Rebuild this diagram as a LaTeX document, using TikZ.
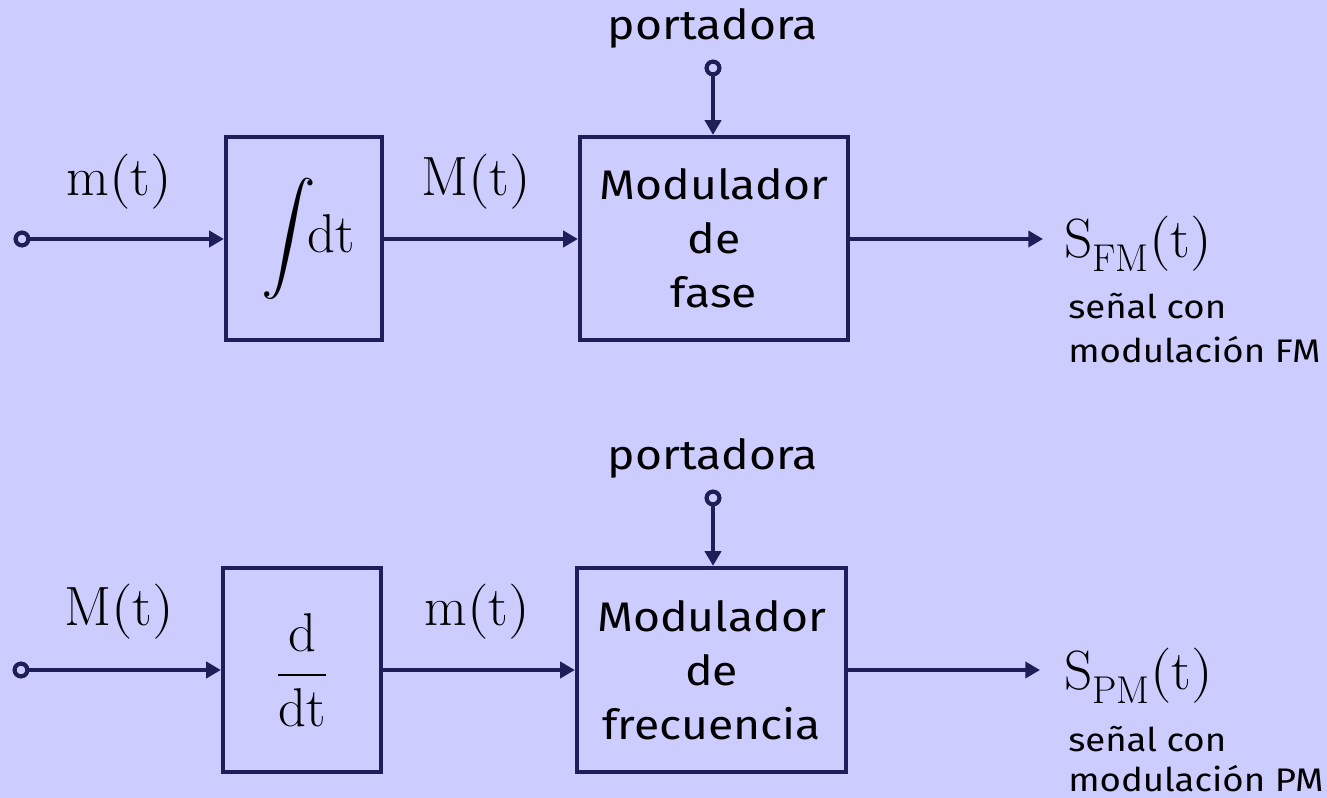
\documentclass[tikz,border=0pt]{standalone}
\usepackage{fontspec}
\usepackage{unicode-math}
\setmathfont{Latin Modern Math}
\newfontfamily\cs[FakeStretch=1.12]{Fira Sans}
\usetikzlibrary{arrows.meta}
\definecolor{bg}{RGB}{204,204,255}
\definecolor{ink}{RGB}{30,30,88}

\begin{document}
\begin{tikzpicture}[x=0.75pt,y=-0.75pt,
  blk/.style={draw=ink, line width=3.2pt, minimum height=152.25pt, inner sep=0pt,
    font=\cs\fontsize{31}{40.5}\selectfont, align=center},
  mblk/.style={blk, font=\fontsize{41}{44}\selectfont},
  sig/.style={draw=ink, line width=3pt, -{Triangle[length=11pt,width=12pt]}},
  term/.style={circle, draw=ink, line width=3pt, fill=bg, minimum size=9.5pt, inner sep=0pt},
  mlab/.style={font=\fontsize{41.5}{44}\selectfont, inner sep=0pt},
  clab/.style={font=\cs\fontsize{31}{36}\selectfont, inner sep=0pt},
  note/.style={font=\cs\fontsize{24.5}{30}\selectfont, anchor=base west, inner sep=0pt}]

% background and page frame
\fill[bg] (0,0) rectangle (1327,798);
\useasboundingbox (0,0) rectangle (1327,798);

% ---------------- upper chain: integrator + phase modulator ----------------
\node[mblk, minimum width=117pt] (b1) at (304,238.5) {\hspace*{6pt}$\displaystyle\int\!\!\mathrm{dt}$};
\node[blk, minimum width=201pt] (b2) at (714,238.5) {Modulador\\de\\fase};
\node[term] (in1) at (22,239) {};
\node[term] (pc1) at (713,68) {};
\coordinate (out1) at (1043,239);

\node[mlab] (l1) at (119,182) {$\mathrm{m(t)}$};
\node[mlab] (l2) at (476,182) {$\mathrm{M(t)}$};
\node[clab] (p1) at (713,28) {portadora};
\node[mlab, anchor=west] (s1) at (1064,244) {$\mathrm{S_{FM}(t)}$};
\node[note] (n1a) at (1068,319) {señal con};
\node[note] (n1b) at (1068,363) {modulación FM};

\draw[sig] (in1) -- (in1 -| b1.west);
\draw[sig] (b1.east |- in1) -- (b2.west |- in1);
\draw[sig] (b2.east |- in1) -- (out1);
\draw[sig] (pc1) -- (pc1 |- b2.north);
\node[term] at (in1) {};
\node[term] at (pc1) {};

% ---------------- lower chain: differentiator + frequency modulator ----------------
\node[mblk, minimum width=118.5pt, minimum height=153pt] (b3) at (302,670) {$\displaystyle\frac{\mathrm{d}}{\mathrm{dt}}$};
\node[blk, minimum width=201.75pt, minimum height=153pt] (b4) at (711.5,670) {Modulador\\de\\frecuencia};
\node[term] (in2) at (21,670) {};
\node[term] (pc2) at (713,498) {};
\coordinate (out2) at (1040,670);

\node[mlab] (l3) at (119,612) {$\mathrm{M(t)}$};
\node[mlab] (l4) at (477,612) {$\mathrm{m(t)}$};
\node[clab] (p2) at (713,458) {portadora};
\node[mlab, anchor=west] (s2) at (1064,676) {$\mathrm{S_{PM}(t)}$};
\node[note] (n2a) at (1068,751) {señal con};
\node[note] (n2b) at (1068,791) {modulación PM};

\draw[sig] (in2) -- (in2 -| b3.west);
\draw[sig] (b3.east |- in2) -- (b4.west |- in2);
\draw[sig] (b4.east |- in2) -- (out2);
\draw[sig] (pc2) -- (pc2 |- b4.north);
\node[term] at (in2) {};
\node[term] at (pc2) {};
\end{tikzpicture}
\end{document}
